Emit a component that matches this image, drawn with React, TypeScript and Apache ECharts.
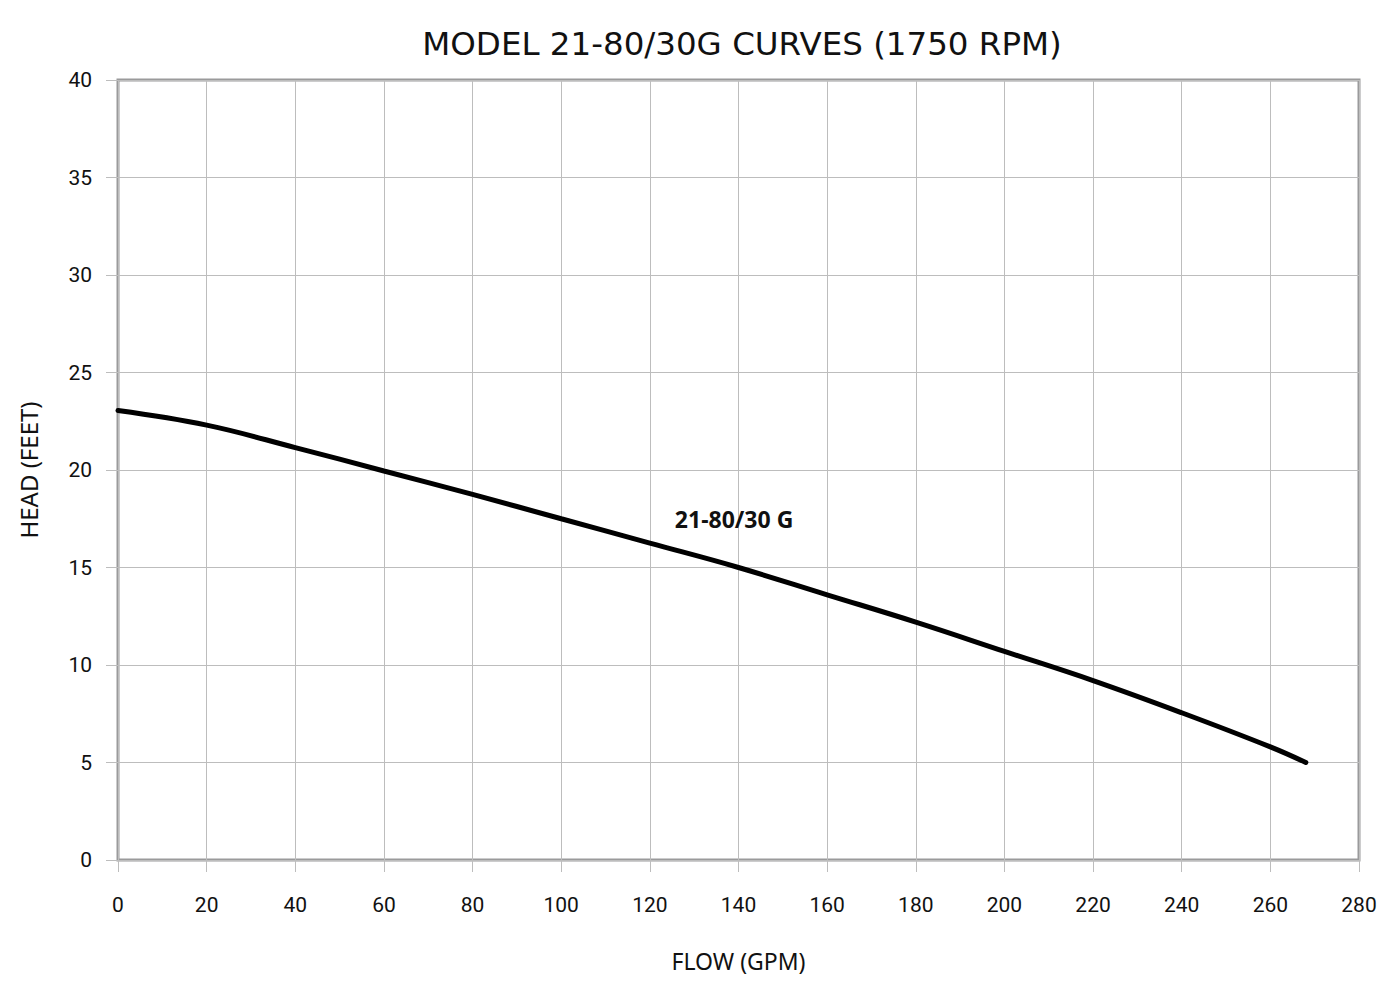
import * as echarts from "echarts";
import { useEffect, useRef } from "react";

const TITLE = "MODEL 21-80/30G CURVES (1750 RPM)";
const CURVE_NAME = "21-80/30 G";

// flow (GPM) -> head (feet)
const flowGpm = [0, 20, 40, 60, 80, 100, 120, 140, 160, 180, 200, 220, 240, 260, 268];
const headFeet = [23.05, 22.3, 21.15, 19.95, 18.75, 17.5, 16.25, 15.0, 13.6, 12.2, 10.7, 9.2, 7.55, 5.8, 5.0];

// where the curve label sits, in data units
const labelAt = [139, 17.5];

const GRID_COLOR = "#bdbdbd";
const BORDER_COLOR = "#9a9a9b";
const TICK_FONT = "'Roboto', sans-serif";
const TEXT_FONT = "'Noto Sans', sans-serif";
const TITLE_FONT = "'DejaVu Sans', sans-serif";

export default function App() {
  const containerRef = useRef<HTMLDivElement>(null);

  useEffect(() => {
    const container = containerRef.current;
    if (!container) {
      return;
    }
    const chart = echarts.init(container, undefined, { renderer: "svg" });

    const option: echarts.EChartsOption = {
      animation: false,
      backgroundColor: "#ffffff",
      title: {
        text: TITLE,
        left: 737,
        textAlign: "center",
        top: 22,
        textStyle: {
          fontFamily: TITLE_FONT,
          fontWeight: 400,
          fontSize: 32.5,
          color: "#111111",
        },
      },
      grid: {
        left: 118,
        right: 41,
        top: 80,
        bottom: 140,
        show: true,
        borderColor: BORDER_COLOR,
        borderWidth: 3,
        containLabel: false,
      },
      xAxis: {
        type: "value",
        min: 0,
        max: 280,
        interval: 20,
        name: "FLOW (GPM)",
        nameLocation: "middle",
        nameGap: 89,
        nameTextStyle: {
          fontFamily: TEXT_FONT,
          fontSize: 23,
          color: "#111111",
        },
        axisLine: { show: false },
        axisTick: { show: true, length: 12, lineStyle: { color: GRID_COLOR } },
        axisLabel: {
          margin: 34,
          fontFamily: TICK_FONT,
          fontSize: 21,
          color: "#111111",
        },
        splitLine: { show: true, lineStyle: { color: GRID_COLOR, width: 1 } },
      },
      yAxis: {
        type: "value",
        min: 0,
        max: 40,
        interval: 5,
        name: "HEAD (FEET)",
        nameLocation: "middle",
        nameGap: 78,
        nameRotate: 90,
        nameTextStyle: {
          fontFamily: TEXT_FONT,
          fontSize: 24,
          color: "#111111",
        },
        axisLine: { show: false },
        axisTick: { show: true, length: 12, lineStyle: { color: GRID_COLOR } },
        axisLabel: {
          margin: 26,
          fontFamily: TICK_FONT,
          fontSize: 21,
          color: "#111111",
        },
        splitLine: { show: true, lineStyle: { color: GRID_COLOR, width: 1 } },
      },
      series: [
        {
          name: CURVE_NAME,
          type: "line",
          smooth: 0.4,
          showSymbol: false,
          symbol: "none",
          lineStyle: { color: "#000000", width: 5, cap: "round" },
          data: flowGpm.map((x, i) => [x, headFeet[i]]),
          markPoint: {
            symbol: "circle",
            symbolSize: 0,
            data: [{ coord: labelAt }],
            label: {
              show: true,
              position: "inside",
              formatter: CURVE_NAME,
              fontFamily: TEXT_FONT,
              fontWeight: "bold",
              fontSize: 23,
              color: "#111111",
            },
          },
        },
      ],
    };
    chart.setOption(option);

    return () => {
      chart.dispose();
    };
  }, []);

  return (
    <div
      ref={containerRef}
      style={{ position: "fixed", left: 0, top: 0, width: 1400, height: 1000 }}
    />
  );
}
